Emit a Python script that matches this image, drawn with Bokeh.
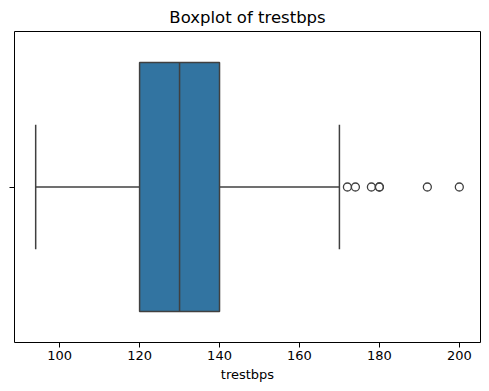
from bokeh.plotting import figure
from bokeh.models import Range1d, FixedTicker
from bokeh.embed import file_html
from bokeh.resources import INLINE

# summary statistics of trestbps
q1 = [120]
median = [130]
q3 = [140]
whisker_low = [94]
whisker_high = [170]
outliers = [172, 174, 178, 180, 180, 192, 200]
x_ticks = [100, 120, 140, 160, 180, 200]

box_color = "#3274a1"
line_color = "#404040"
font = "DejaVu Sans"

lo = min(whisker_low + outliers)
hi = max(whisker_high + outliers)
pad = (hi - lo) * 0.05

p = figure(output_backend="svg", toolbar_location=None,
           x_range=Range1d(lo - pad, hi + pad), y_range=Range1d(0.5, -0.5),
           frame_width=466, frame_height=311,
           title="Boxplot of trestbps")
p.min_border_left = 14
p.min_border_right = 2
p.min_border_top = 2
p.min_border_bottom = 0

p.title.align = "center"
p.title.text_font = font
p.title.text_font_size = "16.5px"
p.title.text_font_style = "normal"
p.title.text_color = "#000000"
p.title.standoff = 10

p.outline_line_color = "black"
p.outline_line_width = 1
p.xgrid.visible = False
p.ygrid.visible = False

p.xaxis.ticker = FixedTicker(ticks=x_ticks)
p.xaxis.axis_label = "trestbps"
p.xaxis.axis_label_text_font = font
p.xaxis.axis_label_text_font_size = "13px"
p.xaxis.axis_label_text_font_style = "normal"
p.xaxis.axis_label_text_color = "black"
p.xaxis.axis_label_standoff = 4
p.xaxis.major_label_text_font = font
p.xaxis.major_label_text_font_size = "13px"
p.xaxis.major_label_text_color = "black"
p.xaxis.major_label_standoff = 3
p.xaxis.axis_line_color = None
p.xaxis.major_tick_line_color = "black"
p.xaxis.major_tick_in = 0
p.xaxis.major_tick_out = 5
p.xaxis.minor_tick_line_color = None

p.yaxis.ticker = FixedTicker(ticks=[0])
p.yaxis.major_label_overrides = {0: ""}
p.yaxis.major_label_standoff = 0
p.yaxis.axis_line_color = None
p.yaxis.major_tick_line_color = "black"
p.yaxis.major_tick_in = 0
p.yaxis.major_tick_out = 5
p.yaxis.minor_tick_line_color = None

# whiskers
p.segment(x0=whisker_low, y0=[0], x1=q1, y1=[0], line_color=line_color, line_width=1.5)
p.segment(x0=q3, y0=[0], x1=whisker_high, y1=[0], line_color=line_color, line_width=1.5)
# caps
p.segment(x0=whisker_low, y0=[-0.2], x1=whisker_low, y1=[0.2], line_color=line_color, line_width=1.5)
p.segment(x0=whisker_high, y0=[-0.2], x1=whisker_high, y1=[0.2], line_color=line_color, line_width=1.5)
# box
p.quad(left=q1, right=q3, bottom=[-0.4], top=[0.4], fill_color=box_color,
       line_color=line_color, line_width=1.5)
# median
p.segment(x0=median, y0=[-0.4], x1=median, y1=[0.4], line_color=line_color, line_width=1.5)
# outliers
p.scatter(x=outliers, y=[0] * len(outliers), marker="circle", size=8,
          fill_color=None, line_color=line_color, line_width=1.3)

open("out.html", "w").write(file_html(p, INLINE))
